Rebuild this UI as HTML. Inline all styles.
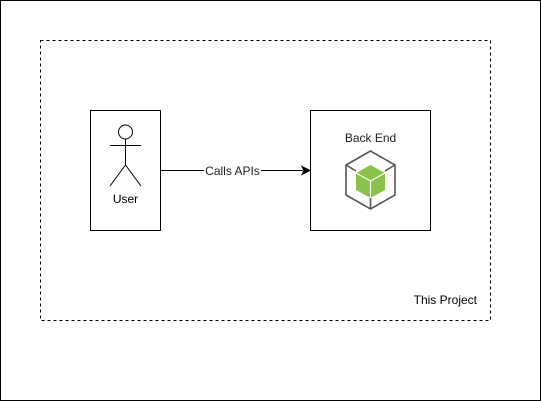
<!DOCTYPE html>
<html><head><style>html,body{margin:0;padding:0;background:#fff}</style></head><body>
<svg width="541" height="401" xmlns="http://www.w3.org/2000/svg" style="display:block">
<rect x="0.5" y="0.5" width="540" height="400" fill="#fff" stroke="#000"/>
<rect x="40.5" y="40.5" width="450" height="280" fill="none" stroke="#000" stroke-dasharray="3,3"/>
<text x="477" y="304" font-family="Liberation Sans, sans-serif" font-size="12" text-anchor="end" fill="#000">This Project</text>
<rect x="90.5" y="110.5" width="70" height="120" fill="#fff" stroke="#000"/>
<g stroke="#000" fill="none" stroke-width="1">
<circle cx="125.5" cy="132" r="7" fill="#fff"/>
<line x1="125.5" y1="139" x2="125.5" y2="165"/>
<line x1="110" y1="145.5" x2="141" y2="145.5"/>
<line x1="125.5" y1="165" x2="110" y2="186"/>
<line x1="125.5" y1="165" x2="141" y2="186"/>
</g>
<text x="125.5" y="203" font-family="Liberation Sans, sans-serif" font-size="12" text-anchor="middle">User</text>
<rect x="310.5" y="110.5" width="120" height="120" fill="#fff" stroke="#000"/>
<text x="370.5" y="142" font-family="Liberation Sans, sans-serif" font-size="12" text-anchor="middle" fill="#222">Back End</text>
<line x1="160" y1="170.5" x2="303" y2="170.5" stroke="#000"/>
<polygon points="310,170.5 302,166.5 304,170.5 302,174.5" fill="#000" stroke="#000"/>
<rect x="204" y="163" width="57" height="14" fill="#fff"/>
<text x="232.5" y="175" font-family="Liberation Sans, sans-serif" font-size="12" text-anchor="middle" fill="#222">Calls APIs</text>
<g stroke="#555" stroke-width="1.6" fill="none">
<polygon points="370.5,151 346,165 346,195 370.5,209 395,195 395,165"/>
<line x1="346" y1="165" x2="356" y2="171"/>
<line x1="395" y1="165" x2="385" y2="171"/>
<line x1="370.5" y1="209" x2="370.5" y2="198"/>
</g>
<polygon points="370.5,165 385,173 385,190 370.5,198 356,190 356,173" fill="#8bc34a"/>
<g stroke="#fff" stroke-width="1.2" fill="none">
<polyline points="356,173 370.5,181 385,173"/>
<line x1="370.5" y1="181" x2="370.5" y2="198"/>
</g>
</svg>
</body></html>
